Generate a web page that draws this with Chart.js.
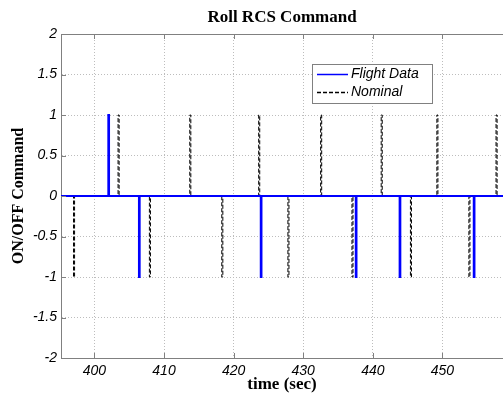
<!DOCTYPE html>
<html>
<head>
<meta charset="utf-8">
<title>Roll RCS Command</title>
<script src="https://cdn.jsdelivr.net/npm/chart.js@4.4.1/dist/chart.umd.min.js"></script>
<style>
    html, body { margin: 0; padding: 0; background: #fff; }
    #wrap { width: 503px; height: 395px; }
</style>
</head>
<body>
<div id="wrap"><canvas id="rcs-chart" width="503" height="395"></canvas></div>
<script>
// axis range and ticks
var xMin = 395.2, xMax = 458.7;
var xTicks = [400, 410, 420, 430, 440, 450];
var yTicks = [-2, -1.5, -1, -0.5, 0, 0.5, 1, 1.5, 2];

// flight data: firing start times (sec) and ON/OFF command
var flightTimes = [402.0, 406.4, 423.9, 437.55, 443.85, 454.5];
var flightCmds = [1, -1, -1, -1, -1, -1];
var flightPulse = 0.1;

// nominal: firing start times (sec) and ON/OFF command
var nominalTimes = [397.0, 403.4, 407.9, 413.7, 418.3, 423.6, 427.8, 432.5, 437.0, 441.2, 445.4, 449.2, 453.8, 457.7];
var nominalCmds = [-1, 1, -1, 1, -1, 1, -1, 1, -1, 1, -1, 1, -1, 1];
var nominalPulse = 0.15;

var seriesNames = ['Flight Data', 'Nominal'];
var titleText = 'Roll RCS Command';
var xLabel = 'time (sec)';
var yLabel = 'ON/OFF Command';

var sans = '"Liberation Sans", Arial, sans-serif';
var serif = '"Liberation Serif", "Times New Roman", serif';

// step signal: zero, with a short pulse at each firing
function pulseTrain(times, cmds, width) {
    var pts = [{x: xMin - 1, y: 0}];
    times.forEach(function (t, i) {
        pts.push({x: t, y: 0}, {x: t, y: cmds[i]}, {x: t + width, y: cmds[i]}, {x: t + width, y: 0});
    });
    pts.push({x: xMax + 1, y: 0});
    return pts;
}

function useTicks(list) {
    return function (scale) {
        scale.ticks = list.map(function (v) { return {value: v}; });
    };
}

// top frame line and the inward tick marks
var framePlugin = {
    id: 'frame',
    afterDatasetsDraw: function (chart) {
        var ctx = chart.ctx, a = chart.chartArea;
        var xs = chart.scales.x, ys = chart.scales.y;
        ctx.save();
        ctx.strokeStyle = '#808080';
        ctx.lineWidth = 1;
        ctx.beginPath();
        ctx.moveTo(a.left, Math.round(a.top) + 0.5);
        ctx.lineTo(a.right, Math.round(a.top) + 0.5);
        xTicks.forEach(function (v) {
            var px = Math.round(xs.getPixelForValue(v)) + 0.5;
            ctx.moveTo(px, a.top);
            ctx.lineTo(px, a.top + 5);
            ctx.moveTo(px, a.bottom);
            ctx.lineTo(px, a.bottom - 5);
        });
        yTicks.forEach(function (v) {
            var py = Math.round(ys.getPixelForValue(v)) + 0.5;
            ctx.moveTo(a.left, py);
            ctx.lineTo(a.left + 5, py);
        });
        ctx.stroke();
        ctx.restore();
    }
};

// legend box inside the plot
var legendPlugin = {
    id: 'boxLegend',
    afterDatasetsDraw: function (chart) {
        var ctx = chart.ctx;
        var sets = chart.data.datasets;
        ctx.save();
        ctx.fillStyle = '#fff';
        ctx.strokeStyle = '#808080';
        ctx.lineWidth = 1;
        ctx.fillRect(312.5, 64.5, 120, 39);
        ctx.strokeRect(312.5, 64.5, 120, 39);
        ctx.font = 'italic 14px ' + sans;
        ctx.textBaseline = 'middle';
        sets.forEach(function (ds, i) {
            var y = 74.5 + i * 18;
            ctx.strokeStyle = ds.borderColor;
            ctx.lineWidth = 1.5;
            ctx.setLineDash(ds.borderDash || []);
            ctx.beginPath();
            ctx.moveTo(317, y);
            ctx.lineTo(348, y);
            ctx.stroke();
            ctx.setLineDash([]);
            ctx.fillStyle = '#000';
            ctx.fillText(ds.label, 351, y);
        });
        ctx.restore();
    }
};

// title and axis titles
var textPlugin = {
    id: 'titles',
    afterDraw: function (chart) {
        var ctx = chart.ctx, a = chart.chartArea;
        var mid = (a.left + a.right) / 2;
        ctx.save();
        ctx.fillStyle = '#000';
        ctx.textAlign = 'center';
        ctx.textBaseline = 'alphabetic';
        ctx.font = 'bold 17px ' + serif;
        ctx.fillText(titleText, mid, 22);
        ctx.fillText(xLabel, mid, 389);
        ctx.translate(23, (a.top + a.bottom) / 2);
        ctx.rotate(-Math.PI / 2);
        ctx.font = 'bold 16px ' + serif;
        ctx.fillText(yLabel, 0, 0);
        ctx.restore();
    }
};

var el = document.getElementById('rcs-chart');
var config = {
    type: 'line',
    data: {
        datasets: [{
            label: seriesNames[0],
            data: pulseTrain(flightTimes, flightCmds, flightPulse),
            borderColor: '#0000ff',
            borderWidth: 2,
            order: 1
        }, {
            label: seriesNames[1],
            data: pulseTrain(nominalTimes, nominalCmds, nominalPulse),
            borderColor: '#000000',
            borderWidth: 1,
            borderDash: [4, 2],
            order: 2
        }]
    },
    options: {
        responsive: false,
        animation: false,
        events: [],
        elements: {
            point: {radius: 0},
            line: {tension: 0}
        },
        layout: {
            padding: {top: 34, left: 0, right: 0, bottom: 0}
        },
        plugins: {
            legend: {display: false},
            title: {display: false},
            tooltip: {enabled: false}
        },
        scales: {
            x: {
                type: 'linear',
                min: xMin,
                max: xMax,
                afterBuildTicks: useTicks(xTicks),
                afterFit: function (scale) { scale.height = 37; },
                ticks: {
                    color: '#000',
                    padding: 5,
                    maxRotation: 0,
                    font: {family: sans, size: 14, style: 'italic'}
                },
                grid: {color: '#bdbdbd', drawTicks: false},
                border: {color: '#808080', width: 1, dash: [1, 2]}
            },
            y: {
                min: -2,
                max: 2,
                afterBuildTicks: useTicks(yTicks),
                afterFit: function (scale) { scale.width = 61; },
                ticks: {
                    color: '#000',
                    padding: 4,
                    font: {family: sans, size: 14, style: 'italic'},
                    callback: function (value) { return String(value); }
                },
                grid: {color: '#bdbdbd', drawTicks: false},
                border: {color: '#808080', width: 1, dash: [1, 2]}
            }
        }
    },
    plugins: [framePlugin, legendPlugin, textPlugin]
};
var rcsChart = new Chart(el, config);
</script>
</body>
</html>
